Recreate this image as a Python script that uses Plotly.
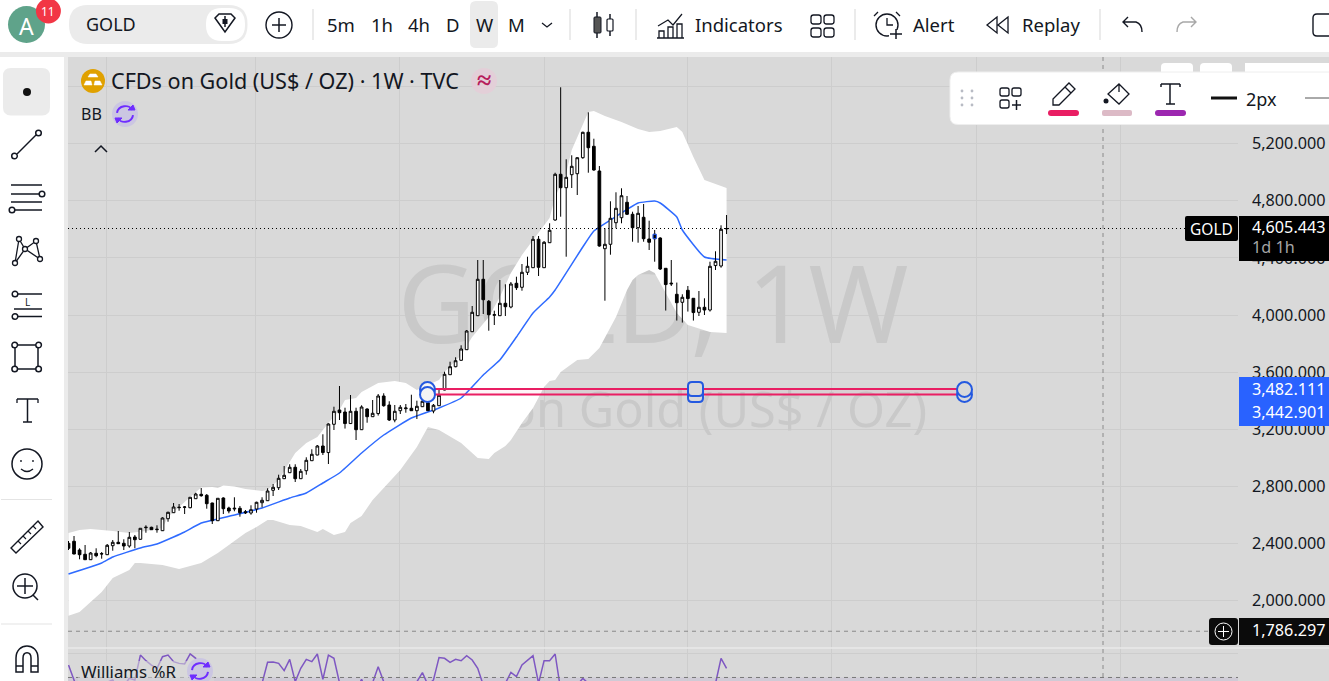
import re
import plotly.graph_objects as go

bars = list(range(120))
opens = [2402,2416,2355,2325,2287,2332,2327,2322,2385,2409,2402,2383,2446,2430,2511,2514,2497,2490,2574,2616,
         2651,2654,2651,2714,2745,2738,2684,2560,2719,2649,2642,2647,2623,2614,2642,2686,2700,2773,2791,2854,
         2896,2934,2854,2910,2980,3020,3083,3037,3235,3335,3321,3240,3326,3197,3342,3288,3310,3433,3370,3265,
         3330,3344,3347,3330,3358,3386,3328,3365,3475,3582,3638,3683,3757,3883,3995,4250,4096,3998,3995,4082,
         4056,4222,4194,4299,4331,4530,4331,4506,4665,4985,4891,4982,4989,5101,5279,5181,5008,4464,4495,4646,
         4681,4789,4705,4611,4684,4532,4565,4539,4327,4217,4145,4089,4173,4117,4019,4054,4035,4346,4343,4603]
highs = [2418,2453,2367,2390,2341,2367,2341,2397,2425,2488,2430,2481,2460,2507,2528,2518,2528,2584,2623,2684,
         2677,2663,2724,2756,2789,2747,2686,2717,2724,2658,2724,2663,2635,2668,2693,2724,2787,2817,2882,2943,
         2955,2955,2922,3004,3060,3090,3165,3242,3358,3503,3351,3440,3351,3368,3347,3405,3447,3452,3396,3370,
         3370,3377,3442,3400,3428,3452,3377,3487,3603,3673,3704,3788,3895,4063,4385,4385,4105,4030,4245,4215,
         4231,4268,4357,4408,4553,4553,4518,4642,4996,5594,5090,5118,5104,5283,5419,5234,5043,4607,4796,4859,
         4887,4833,4723,4763,4777,4660,4595,4544,4327,4385,4227,4145,4203,4117,4168,4117,4373,4446,4628,4700]
lows = [2355,2325,2290,2285,2285,2304,2294,2320,2350,2397,2355,2371,2367,2427,2476,2495,2476,2488,2553,2614,
        2630,2607,2647,2712,2728,2644,2537,2558,2607,2612,2626,2588,2607,2602,2616,2654,2698,2733,2775,2852,
        2895,2831,2852,2882,2978,3018,3020,2957,3195,3265,3205,3237,3125,3195,3246,3286,3296,3358,3258,3249,
        3307,3316,3328,3272,3356,3328,3312,3363,3473,3580,3634,3680,3755,3881,3993,4007,3890,3930,3993,3993,
        4047,4175,4170,4280,4329,4273,4329,4504,4660,4688,4408,4889,4840,5094,4996,5010,4478,4100,4422,4607,
        4642,4700,4513,4506,4513,4455,4373,4315,4031,4203,3961,3947,4024,3961,3993,4000,4024,4315,4331,4567]
closes = [2367,2327,2322,2287,2334,2315,2329,2388,2409,2399,2383,2444,2427,2507,2514,2497,2500,2579,2619,2656,
          2654,2656,2724,2747,2735,2679,2560,2717,2644,2628,2647,2616,2616,2637,2689,2703,2768,2794,2857,2878,
          2934,2854,2906,2983,3025,3083,3037,3237,3326,3316,3240,3326,3197,3356,3288,3312,3433,3365,3265,3326,
          3354,3349,3330,3361,3396,3330,3368,3438,3585,3638,3680,3762,3888,4019,4250,4107,4002,4002,4082,4058,
          4217,4191,4299,4341,4530,4334,4509,4593,4985,4891,4964,5041,5101,5279,5171,5015,4483,4495,4677,4747,
          4835,4705,4611,4712,4534,4509,4534,4322,4213,4222,4086,4124,4115,4017,4054,4035,4341,4376,4600,4605.443]

upper_x = [0,2,4,8,11,14,17,18,20,22,24,26,27,28,30,32,35,36,38,41,43,45,47,49,50,52,53,56,59,61,63,67,68,71,73,76,78,80,82,84,87,88,90,91,94,95,97,100,103,105,107,110,111,113,115,117,119]
upper_y = [2474,2495,2502,2488,2474,2488,2509,2586,2656,2726,2792,2796,2789,2806,2799,2782,2768,2775,2845,3034,3104,3146,3244,3335,3405,3419,3461,3524,3538,3524,3475,3545,3601,3720,3846,3986,4126,4294,4420,4525,4679,4826,4994,5155,5421,5428,5393,5351,5302,5281,5288,5316,5281,5106,4945,4917,4889]
lower_x = [0,2,4,6,8,11,12,13,17,20,24,27,29,32,34,36,37,40,42,45,46,48,50,51,53,55,60,63,65,67,71,74,76,77,79,80,82,84,86,87,88,89,92,94,96,99,101,102,103,105,106,108,110,112,116,119]
lower_y = [1895,1921,1991,2061,2159,2215,2264,2264,2250,2222,2264,2334,2390,2474,2516,2565,2565,2530,2523,2481,2502,2460,2481,2544,2593,2705,2915,3076,3216,3195,3104,2999,2992,3034,3083,3125,3244,3349,3496,3538,3545,3601,3685,3692,3769,3986,4175,4245,4280,4315,4294,4154,4014,3930,3881,3874]
basis_x = [0,6,8,13,16,19,21,24,30,35,40,43,46,49,53,57,62,67,71,75,78,81,84,87,88,93,95,98,103,106,107,110,111,115,119]
basis_y = [2187,2264,2306,2369,2397,2446,2481,2544,2600,2649,2719,2754,2824,2894,3034,3160,3279,3349,3419,3580,3685,3846,4014,4126,4175,4476,4588,4665,4784,4798,4784,4686,4595,4406,4385]

williams_r = [-9.4,-28,-35,-40,-38,-33,-36,-24,-22.1,-30,-27,-20.7,-22.1,-0.9,-5.7,-9.4,-12.2,-2.3,-0.9,-6.5,
              -8,-8.5,0,-3.7,-16.5,-26.4,-45,-50,-40,-40,-38,-45,-48,-42,-30,-25,-7.1,-6.8,-8,-14.2,
              -4.6,-23.6,-12.2,-4.6,-6.5,0,-21.6,-0.9,-3.7,-24.4,-40,-35,-30,-21.6,-32,-24.4,-10.8,-23.6,-40,-45,
              -48,-50,-45,-23.6,-15.9,-26.4,-22.1,-3.1,-3.7,-7.1,-4.6,-5.7,-1.4,-5.1,-12.2,-25,-50,-55,-45,-25,
              -15.6,-19.3,-9.4,-5.1,-1.4,-25,-5.7,-5.7,0,-30.7,-50,-40,-26.4,-20.7,-25,-60,-65,-70,-60,-55,
              -50,-55,-60,-65,-70,-68,-60,-72,-75,-70,-65,-60,-65,-62,-60,-58,-50,-25,-3.7,-12.2]

price_ticks = [5600,5200,4800,4400,4000,3600,3200,2800,2400,2000]
price_labels = ['','5,200.000','4,800.000','4,400.000','4,000.000','3,600.000','3,200.000','2,800.000','2,400.000','2,000.000']
time_grid = [6.9,33.8,59.9,86,112,138,164.2,190.2]
last_price = 4605.443
box_top, box_bottom = 3482.111, 3442.901
box_start, box_end = 65, 162
hline_price = 1786.297

W, H = 1329, 681
X0, X1 = 68, 1238
PANE_TOP, PANE_BOT = 57, 648
XR = [(X0-68.5)/5.53, (X1-68.5)/5.53]
YR = [6205-7*PANE_BOT, 6205-7*PANE_TOP]
INK = '#131722'
BG = '#d9d9d9'
GRID = '#cdcdcd'
FONT = 'Noto Sans'

shapes, notes = [], []
def px(x): return x/W
def py(y): return 1-y/H
def conv(d):
    toks = re.findall(r'[MLCQZ]|-?\d+\.?\d*', d)
    out, isx = [], True
    for t in toks:
        if t in 'MLCQZ':
            out.append(t); isx = True
        else:
            out.append(f'{px(float(t)):.5f}' if isx else f'{py(float(t)):.5f}')
            isx = not isx
    return ' '.join(out)
def P(d, color=INK, w=1.5, fill='rgba(0,0,0,0)', layer='above'):
    shapes.append(dict(type='path', xref='paper', yref='paper', path=conv(d), line=dict(color=color, width=w), fillcolor=fill, layer=layer))
def R(x0, y0, x1, y1, fill, color='rgba(0,0,0,0)', w=0, layer='above'):
    shapes.append(dict(type='rect', xref='paper', yref='paper', x0=px(x0), x1=px(x1), y0=py(y1), y1=py(y0), fillcolor=fill, line=dict(color=color, width=w), layer=layer))
def RR(x0, y0, x1, y1, r, fill='rgba(0,0,0,0)', color='rgba(0,0,0,0)', w=0, layer='above'):
    d = (f'M {x0+r} {y0} L {x1-r} {y0} Q {x1} {y0} {x1} {y0+r} L {x1} {y1-r} Q {x1} {y1} {x1-r} {y1} '
         f'L {x0+r} {y1} Q {x0} {y1} {x0} {y1-r} L {x0} {y0+r} Q {x0} {y0} {x0+r} {y0} Z')
    P(d, color, w, fill, layer)
def C(cx, cy, r, fill='rgba(0,0,0,0)', color=INK, w=1.5):
    shapes.append(dict(type='circle', xref='paper', yref='paper', x0=px(cx-r), x1=px(cx+r), y0=py(cy+r), y1=py(cy-r), fillcolor=fill, line=dict(color=color, width=w), layer='above'))
def L(x0, y0, x1, y1, color=INK, w=1.5, dash='solid'):
    shapes.append(dict(type='line', xref='paper', yref='paper', x0=px(x0), x1=px(x1), y0=py(y0), y1=py(y1), line=dict(color=color, width=w, dash=dash), layer='above'))
def T(x, y, s, size=18, color=INK, anchor='left', family=FONT):
    if anchor == 'left':
        x -= 1
    notes.append(dict(x=px(x), y=py(y), xref='paper', yref='paper', text=s, showarrow=False, xanchor=anchor, yanchor='middle', borderpad=0,
                      font=dict(size=size, color=color, family=family)))
def refresh(cx, cy):
    C(cx, cy, 13, fill='#cbc6e2', color='rgba(0,0,0,0)', w=0)
    col = '#6f2dff'
    P(f'M {cx-8} {cy-1} C {cx-7} {cy-9} {cx+5} {cy-10} {cx+7} {cy-4}', col, 2)
    P(f'M {cx+8} {cy+1} C {cx+7} {cy+9} {cx-5} {cy+10} {cx-7} {cy+4}', col, 2)
    P(f'M {cx+3} {cy-4} L {cx+10} {cy-4} L {cx+8} {cy-9} Z', col, 1, col)
    P(f'M {cx-3} {cy+4} L {cx-10} {cy+4} L {cx-8} {cy+9} Z', col, 1, col)

# frame
R(0, 52, W, 57, '#ebebeb', layer='below')
R(64, 52, 68, H, '#ebebeb', layer='below')
R(X1, PANE_TOP, W, H, BG, layer='below')

# data-anchored drawing
shapes.append(dict(type='line', xref='paper', yref='y', x0=px(X0), x1=px(1185), y0=last_price, y1=last_price, line=dict(color='#000', width=1, dash='1px,3px'), layer='above'))
shapes.append(dict(type='line', xref='paper', yref='y', x0=px(X0), x1=px(X1), y0=hline_price, y1=hline_price, line=dict(color='#8a8a8a', width=1, dash='4px,4px'), layer='above'))
L(1103, PANE_TOP, 1103, H, '#8a8a8a', 1, '4px,4px')
R(X0, PANE_BOT-0.7, W, PANE_BOT+0.7, '#e9e9e9')
shapes.append(dict(type='rect', xref='paper', yref='y3', x0=px(X0), x1=px(X1), y0=-80, y1=-20, fillcolor='rgba(126,87,194,0.10)', line=dict(width=0), layer='below'))
shapes.append(dict(type='line', xref='paper', yref='y3', x0=px(X0), x1=px(X1), y0=-20, y1=-20, line=dict(color='#787878', width=1, dash='4px,4px'), layer='above'))
R(78, 661, 214, 681, 'rgba(217,217,217,0.55)')
shapes.append(dict(type='rect', xref='x', yref='y', x0=box_start, x1=box_end, y0=box_bottom, y1=box_top, fillcolor='rgba(233,30,99,0.05)', line=dict(color='#e91e63', width=2), layer='above'))
shapes.append(dict(type='rect', xref='x', yref='y', x0=105.7, x1=106.3, y0=4534, y1=4565, fillcolor='rgba(0,0,0,0)', line=dict(color='#2962ff', width=1), layer='above'))
HB = '#2459e0'
C(427.5, 389.5, 7.5, fill='#f4f4f4', color=HB, w=2)
C(427.5, 394.5, 7.5, fill='#f4f4f4', color=HB, w=2)
RR(688, 388, 703, 402, 4, BG, HB, 2)
RR(688, 382, 703, 396, 4, BG, HB, 2)
C(964.5, 394.5, 7.5, fill=BG, color=HB, w=2)
C(964.5, 389.5, 7.5, fill=BG, color=HB, w=2)

# top bar
C(26.5, 24.5, 18.5, fill='#5fa38a', color='rgba(0,0,0,0)', w=0)
T(26.5, 26, 'A', 23, 'white', 'center')
C(48.4, 11, 12.5, fill='#f23645', color='white', w=0)
T(48.4, 11, '11', 12, 'white', 'center')
RR(69, 5, 247.5, 44, 19, '#ebebeb')
RR(206, 8, 245, 41, 16, 'white')
T(86, 24, 'GOLD', 18, INK)
P('M 215 18 L 219 14 L 231 14 L 235 18 L 225 32 Z', INK, 1.5)
L(225, 16, 225, 27, INK, 1.5); R(222.5, 19, 227.5, 24, INK)
C(279, 25, 13, w=1.4)
L(272, 25, 286, 25); L(279, 18, 279, 32)
for x in [313, 570, 636, 855, 1100]:
    L(x, 9, x, 40, '#e4e4e4', 1.5)
RR(470, 1, 498, 48, 6, '#ebebeb')
for x, s in [(341, '5m'), (382, '1h'), (419, '4h'), (452.5, 'D'), (484, 'W'), (516, 'M')]:
    T(x, 25, s, 18.5, INK, 'center')
P('M 542 23 L 547 27 L 552 23', INK, 1.3)
L(597, 12, 597, 38); RR(594, 17, 601, 33, 1, '#555555', INK, 1)
L(610, 14, 610, 36); RR(607, 19, 613, 31, 1, 'white', INK, 1.2)
P('M 658 26 L 668 20 L 673 25 L 682 14', INK, 1.2)
P('M 659 38 L 659 31 L 664 31 L 664 38 M 668 38 L 668 27 L 673 27 L 673 38 M 677 38 L 677 24 L 682 24 L 682 38 M 657 38 L 684 38', INK, 1.3)
T(695, 25, 'Indicators', 18.5, INK)
for a, b in [(811, 15), (824, 15), (811, 28), (824, 28)]:
    RR(a, b, a+10, b+9, 2.5, 'rgba(0,0,0,0)', INK, 1.3)
C(887, 25, 11, w=1.4)
P('M 887 18 L 887 25 L 893 25', INK, 1.3)
P('M 874 16 L 878 12 M 900 16 L 896 12', INK, 1.3)
R(889, 30, 903, 38, 'white')
L(896, 29, 896, 39); L(890, 34, 902, 34)
T(913, 25, 'Alert', 18.5, INK)
P('M 997 17 L 987 25 L 997 33 Z M 1008 17 L 998 25 L 1008 33 Z', INK, 1.3)
T(1022, 25, 'Replay', 18.5, INK)
P('M 1128 17 L 1123 22 L 1128 27 M 1123 22 L 1136 22 Q 1142 24 1142 32', INK, 1.4)
P('M 1191 17 L 1196 22 L 1191 27 M 1196 22 L 1183 22 Q 1177 24 1177 32', '#a8a8a8', 1.4)
RR(1313, 14, 1340, 36, 4, 'rgba(0,0,0,0)', INK, 1.4)

# left tool bar
RR(3, 68, 50, 115.5, 8, '#ebebeb')
C(27, 92, 4, fill='#111', color='#111', w=0)
L(17, 154, 36, 135); C(14.5, 156, 2.8); C(38.5, 133, 2.8)
L(11, 185, 42, 185); L(11, 194, 40, 194); C(42, 194, 2.8)
L(11, 202, 42, 202); L(15, 210, 42, 210); C(12, 210, 2.8)
P('M 15 263 L 19 239 L 25 249 L 36 241 L 40 259 L 25 249 L 15 263 M 19 239 L 25 249', INK, 1.3)
for a, b in [(15, 263), (19, 239), (36, 241), (40, 259), (25, 249)]:
    C(a, b, 2.5, fill='white', w=1.3)
L(18, 294, 42, 294); C(15, 294, 2.8); L(14, 309, 42, 309); L(18, 316.5, 42, 316.5); C(15, 316.5, 2.8)
T(27.5, 302, 'L', 10, INK, 'center')
L(15, 345, 38, 345); L(15, 369, 38, 369); L(15, 345, 15, 369); L(38, 345, 38, 369)
for a, b in [(14.7, 345), (38.6, 345), (14.7, 369), (38.6, 369)]:
    C(a, b, 2.8, fill='white')
L(17, 399, 38, 399); L(27.5, 399, 27.5, 422); L(23, 422, 32, 422)
P('M 17 403 L 17 399 M 38 403 L 38 399', INK, 1.3)
C(27, 464, 15)
C(21, 461, 0.9, fill=INK, w=0); C(33, 461, 0.9, fill=INK, w=0)
P('M 21 469 Q 27 474 33 469', INK, 1.3)
L(1, 499.5, 52, 499.5, '#e4e4e4', 1.2); L(1, 624, 52, 624, '#e4e4e4', 1.2)
P('M 11 548 L 38 521 L 43 527 L 16 553 Z', INK, 1.4)
for a, b in [(18, 541), (23, 536), (28, 531), (33, 526)]:
    L(a, b, a+3, b+3, INK, 1.1)
C(25, 586, 12); L(17, 586, 33, 586); L(25, 578, 25, 594); L(33, 595, 38, 600)
P('M 16 672 L 16 658 C 16 642 38 642 38 658 L 38 672 L 31 672 L 31 658 C 31 651 23 651 23 658 L 23 672 Z M 16 666 L 23 666 M 31 666 L 38 666', INK, 1.5)

# legend
C(93, 81, 12, fill='#e0a100', color='rgba(0,0,0,0)', w=0)
P('M 88 77 L 98 77 L 96 74 L 90 74 Z M 84 85 L 92 85 L 91 81 L 86 81 Z M 94 85 L 102 85 L 100 81 L 95 81 Z', 'white', 0.5, 'white')
T(111, 80, 'CFDs on Gold (US$ / OZ) · 1W · TVC', 21.6, INK)
C(484, 81, 13, fill='#e3cfd8', color='rgba(0,0,0,0)', w=0)
T(484, 79, '<b>≈</b>', 26, '#b71c5c', 'center')
T(81, 114, 'BB', 16, INK)
refresh(125, 114)
P('M 95 152 L 101 146 L 107 152', INK, 1.5)
T(81, 671, 'Williams %R', 16.8, INK)
refresh(200, 671)

# floating drawing toolbar
RR(1161, 63, 1193, 80, 4, 'white'); RR(1200, 63, 1232, 80, 4, 'white'); R(1245, 63, W, 80, 'white')
RR(950, 72, 1345, 124.5, 8, 'white', '#eeeeee', 1)
for a in (962, 972):
    for b in (91, 98, 105):
        C(a, b, 1.4, fill='#b8bbc4', color='rgba(0,0,0,0)', w=0)
for a, b in [(1000, 88), (1012, 88), (1000, 100)]:
    RR(a, b, a+9, b+8, 2, 'rgba(0,0,0,0)', INK, 1.3)
L(1012, 105, 1021, 105); L(1016.5, 100, 1016.5, 110)
P('M 1053 99 L 1069 83 L 1075 89 L 1059 105 L 1053 105 Z M 1065 87 L 1071 93', INK, 1.3)
RR(1048, 110, 1079, 116, 3, '#e91e63')
P('M 1119 84 L 1129 94 L 1119 104 L 1108 94 Z M 1119 84 L 1119 92', INK, 1.3)
C(1106, 101, 2.5, fill=INK, w=0)
RR(1102, 110, 1132, 116, 2, '#dcbac6')
L(1161, 84, 1180, 84); L(1170, 84, 1170, 104); L(1166, 104, 1175, 104); L(1161, 84, 1161, 87); L(1180, 84, 1180, 87)
RR(1155, 110, 1186, 116, 3, '#9c27b0')
L(1211, 98, 1237, 98, '#111', 3)
T(1246, 99, '2px', 18, INK)
L(1305, 98, W, 98, '#555', 1)

# price tags
RR(1185, 216, 1238, 241, 2, '#000')
T(1211.5, 229, 'GOLD', 15.5, 'white', 'center')
R(1239, 216, W, 261, '#000')
T(1252, 227, '4,605.443', 16.2, 'white')
T(1252, 247, '1d 1h', 16.2, '#a5a5a5')
R(1239, 377, W, 426, '#2962ff')
T(1252, 389, '3,482.111', 16.2, 'white')
T(1252, 412, '3,442.901', 16.2, 'white')
RR(1209, 618, 1238, 645, 3, '#0b0b0b')
C(1223.5, 631.5, 8.5, color='white', w=1)
L(1218, 631.5, 1229, 631.5, 'white', 1); L(1223.5, 626, 1223.5, 637, 'white', 1)
R(1239, 618, W, 645, '#0b0b0b')
T(1252, 630, '1,786.297', 16.2, 'white')

fig = go.Figure()
fig.add_trace(go.Scatter(x=[105.7], y=[3993], mode='text', text=['GOLD, 1W'], textposition='middle center',
                         textfont=dict(size=107.5, color='#c9c9c9', family=FONT), hoverinfo='skip', showlegend=False))
fig.add_trace(go.Scatter(x=[105.7], y=[3300], mode='text', text=['CFDs on Gold (US$ / OZ)'], textposition='middle center',
                         textfont=dict(size=48.7, color='#c9c9c9', family=FONT), hoverinfo='skip', showlegend=False))
fig.add_trace(go.Scatter(x=upper_x+lower_x[::-1], y=upper_y+lower_y[::-1], mode='none', fill='toself', fillcolor='white', hoverinfo='skip', showlegend=False))
fig.add_trace(go.Scatter(x=basis_x, y=basis_y, mode='lines', line=dict(color='#2f6bff', width=1.5, shape='spline', smoothing=0.4), hoverinfo='skip', showlegend=False))
fig.add_trace(go.Scatter(x=bars, y=williams_r, yaxis='y3', mode='lines', line=dict(color='#7e57c2', width=1.5), cliponaxis=True, hoverinfo='skip', showlegend=False))
fig.add_trace(go.Candlestick(x=bars, open=opens, high=highs, low=lows, close=closes, xaxis='x2', yaxis='y2',
                             increasing=dict(line=dict(color='#000', width=1), fillcolor='#fff'),
                             decreasing=dict(line=dict(color='#000', width=1), fillcolor='#000'),
                             whiskerwidth=0, hoverinfo='skip', showlegend=False))
dom_x = [X0/W, X1/W]
dom_y = [1-PANE_BOT/H, 1-PANE_TOP/H]
fig.update_layout(
    width=W, height=H, margin=dict(l=0, r=0, t=0, b=0, pad=0), autosize=False,
    paper_bgcolor='white', plot_bgcolor=BG, showlegend=False, shapes=shapes, annotations=notes, hovermode=False,
    font=dict(family=FONT, color=INK),
    xaxis=dict(domain=dom_x, range=XR, tickmode='array', tickvals=time_grid, showticklabels=False, ticks='', showgrid=True, gridcolor=GRID,
               gridwidth=1, zeroline=False, showline=False, anchor='y', rangeslider=dict(visible=False), fixedrange=True),
    yaxis=dict(domain=dom_y, range=YR, side='right', tickmode='array', tickvals=price_ticks, ticktext=price_labels, ticks='', ticklabelstandoff=13,
               tickfont=dict(size=16.2, color=INK, family=FONT), showgrid=True, gridcolor=GRID, gridwidth=1, zeroline=False, showline=False, anchor='x', fixedrange=True),
    xaxis2=dict(range=XR, overlaying='x', visible=False, anchor='y2', rangeslider=dict(visible=False), fixedrange=True),
    yaxis2=dict(range=YR, overlaying='y', visible=False, anchor='x2', fixedrange=True),
    yaxis3=dict(domain=[0, 1-PANE_BOT/H], range=[-23, 5.1], tickmode='array', tickvals=[0], showticklabels=False, ticks='', showgrid=True,
                gridcolor=GRID, zeroline=False, showline=False, anchor='x', fixedrange=True),
)
fig.write_html('out.html', config=dict(displayModeBar=False), post_script='document.body.style.margin="0";document.documentElement.style.overflow="hidden";')
